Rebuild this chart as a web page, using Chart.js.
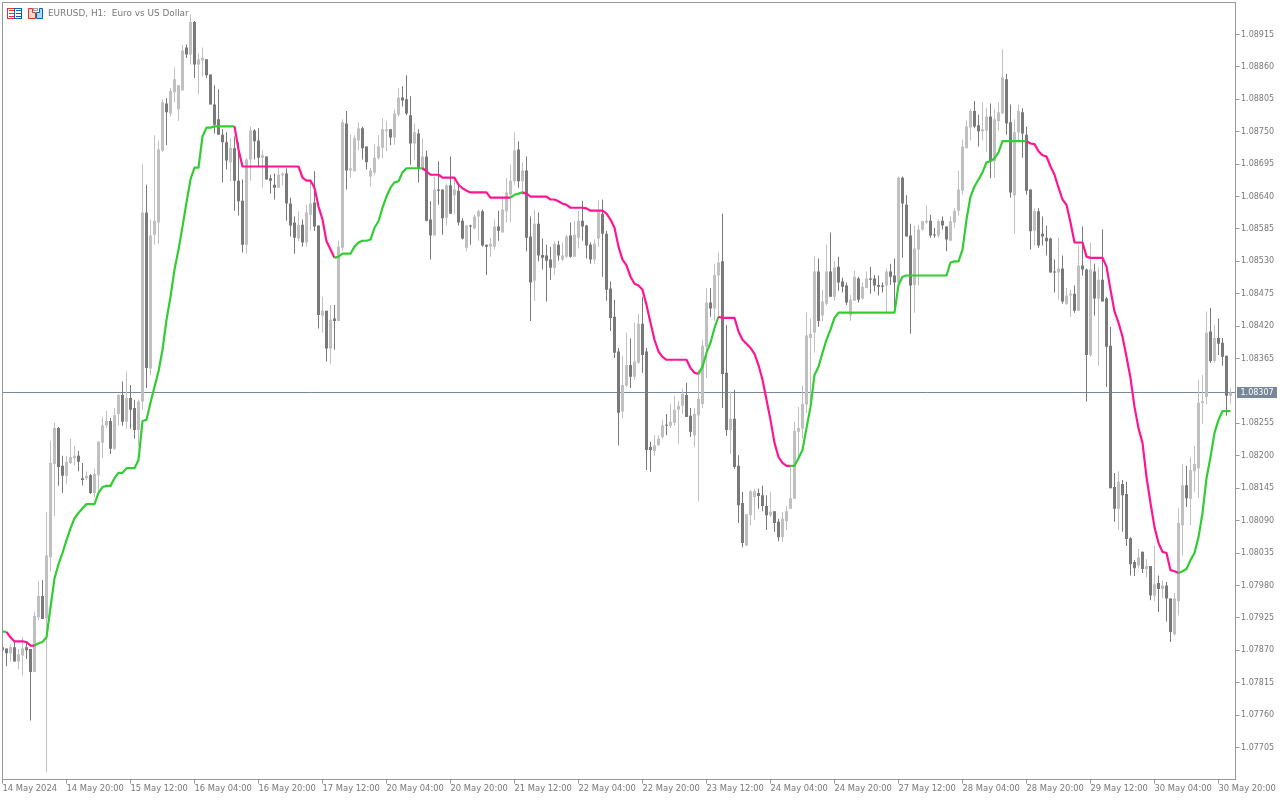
<!DOCTYPE html>
<html>
<head>
<meta charset="utf-8">
<style>html,body{margin:0;padding:0;background:#fff}canvas{display:block}</style>
<script src="https://cdn.jsdelivr.net/npm/chart.js@4"></script>
</head>
<body>
<canvas id="c" width="1280" height="800"></canvas>
<script>
// prices in points (1 point = 0.00001)
const highs=[107877,107873,107880,107884,107872,107892,107884,107872,107935,107987,
107989,108105,108225,108256,108249,108200,108200,108229,108217,108208,
108188,108174,108169,108178,108225,108266,108276,108264,108281,108305,
108326,108343,108320,108295,108295,108695,108660,108601,108744,108735,
108805,108807,108824,108859,108829,108897,108898,108949,108938,108883,
108893,108873,108847,108829,108822,108754,108749,108739,108742,108732,
108669,108705,108759,108754,108756,108718,108708,108677,108679,108689,
108681,108688,108638,108606,108615,108601,108626,108669,108683,108591,
108470,108446,108456,108456,108565,108771,108785,108745,108744,108766,
108759,108725,108689,108728,108744,108773,108768,108754,108788,108824,
108827,108846,108810,108764,108754,108739,108718,108632,108674,108700,
108652,108662,108708,108669,108660,108603,108592,108592,108609,108618,
108618,108558,108570,108601,108616,108638,108671,108694,108749,108734,
108698,108708,108606,108618,108613,108569,108558,108555,108564,108565,
108562,108575,108596,108598,108616,108633,108592,108562,108567,108633,
108635,108582,108496,108465,108383,108370,108409,108399,108426,108441,
108470,108383,108224,108235,108235,108261,108271,108288,108302,108293,
108314,108324,108281,108281,108346,108397,108484,108485,108526,108545,
108611,108422,108309,108312,108201,108139,108101,108142,108144,108144,
108149,108133,108139,108106,108093,108105,108115,108183,108258,108283,
108319,108443,108433,108538,108535,108482,108558,108579,108530,108538,
108502,108494,108473,108514,108504,108494,108513,108521,108507,108506,
108494,108518,108526,108535,108674,108674,108642,108594,108591,108592,
108599,108625,108609,108587,108601,108606,108589,108606,108620,108684,
108737,108769,108788,108802,108779,108800,108790,108798,108788,108800,
108890,108848,108796,108771,108796,108790,108759,108652,108620,108620,
108606,108591,108570,108533,108570,108540,108485,108482,108489,108557,
108589,108518,108562,108526,108519,108584,108470,108419,108171,108174,
108159,108156,108062,108023,108042,108037,108025,108013,108047,107997,
107989,107986,107958,107967,108111,108186,108183,108198,108217,108329,
108337,108445,108451,108422,108433,108400,108370,108315];
const lows=[107867,107843,107851,107851,107838,107827,107855,107751,107833,107921,
107923,107663,108004,108098,108149,108137,108152,108186,108183,108174,
108150,108159,108135,108130,108135,108196,108247,108203,108210,108252,
108251,108246,108246,108229,108217,108278,108315,108337,108558,108560,
108715,108727,108776,108800,108768,108820,108875,108864,108841,108813,
108844,108841,108796,108747,108745,108664,108686,108666,108616,108608,
108545,108543,108667,108703,108691,108655,108669,108645,108635,108655,
108659,108599,108572,108543,108564,108555,108555,108582,108582,108416,
108409,108360,108356,108380,108429,108548,108652,108672,108683,108718,
108703,108686,108657,108676,108703,108705,108717,108727,108728,108776,
108793,108778,108694,108703,108664,108684,108598,108533,108574,108626,
108575,108591,108611,108611,108591,108567,108547,108558,108584,108565,
108555,108507,108538,108550,108565,108579,108596,108596,108660,108655,
108643,108547,108429,108463,108530,108516,108462,108499,108507,108531,
108530,108536,108536,108538,108552,108565,108535,108526,108526,108555,
108504,108463,108412,108366,108218,108264,108317,108315,108329,108356,
108341,108176,108173,108200,108217,108229,108235,108247,108251,108220,
108271,108266,108232,108215,108123,108281,108332,108436,108429,108436,
108281,108234,108203,108178,108086,108045,108047,108082,108091,108110,
108106,108074,108096,108071,108055,108054,108074,108110,108127,108198,
108229,108273,108278,108375,108419,108429,108455,108470,108463,108480,
108477,108456,108429,108463,108460,108465,108485,108475,108479,108472,
108477,108443,108490,108443,108490,108536,108572,108407,108443,108489,
108582,108594,108570,108570,108570,108584,108547,108565,108587,108608,
108643,108722,108735,108756,108725,108735,108715,108671,108672,108752,
108781,108745,108638,108577,108734,108706,108643,108550,108557,108553,
108557,108540,108511,108477,108465,108458,108456,108436,108443,108446,
108506,108292,108368,108438,108353,108462,108317,108145,108088,108074,
108071,108047,107997,107996,108009,108001,107994,107955,107953,107935,
107958,107919,107884,107895,107929,108031,108113,108082,108139,108128,
108254,108287,108358,108358,108371,108353,108268,108288];
const opens=[107875,107873,107865,107875,107851,107861,107875,107872,107833,107926,
107962,107924,108028,108186,108247,108183,108166,108188,108196,108200,
108162,108162,108167,108137,108167,108222,108252,108259,108212,108271,
108303,108258,108298,108281,108244,108292,108613,108348,108575,108596,
108718,108798,108781,108817,108788,108820,108893,108881,108936,108864,
108871,108873,108847,108796,108771,108745,108732,108698,108722,108667,
108633,108558,108703,108752,108735,108706,108708,108671,108660,108655,
108676,108679,108628,108596,108569,108592,108562,108609,108630,108591,
108438,108446,108382,108433,108429,108553,108764,108684,108683,108735,
108756,108725,108674,108681,108705,108723,108751,108754,108740,108779,
108808,108805,108778,108730,108747,108688,108708,108601,108574,108652,
108652,108604,108659,108642,108650,108599,108553,108591,108586,108606,
108615,108558,108555,108555,108589,108579,108615,108643,108666,108720,
108666,108684,108572,108497,108594,108541,108540,108533,108519,108558,
108533,108538,108574,108538,108570,108599,108591,108558,108533,108569,
108611,108577,108484,108436,108377,108275,108319,108354,108334,108358,
108424,108377,108215,108208,108218,108232,108252,108251,108256,108278,
108285,108303,108268,108235,108269,108288,108385,108460,108450,108506,
108530,108341,108244,108263,108183,108120,108048,108099,108130,108137,
108133,108115,108099,108106,108088,108062,108089,108110,108127,108241,
108246,108287,108400,108409,108513,108438,108458,108513,108470,108521,
108496,108489,108438,108463,108501,108467,108485,108501,108501,108490,
108489,108489,108513,108506,108494,108672,108626,108574,108490,108550,
108584,108596,108599,108575,108574,108599,108589,108565,108596,108616,
108650,108722,108757,108785,108761,108751,108752,108776,108700,108768,
108781,108839,108766,108642,108749,108783,108745,108652,108582,108615,
108577,108570,108569,108513,108511,108518,108458,108472,108475,108446,
108523,108516,108371,108513,108467,108499,108467,108387,108147,108110,
108152,108135,108060,108020,108014,108037,108008,108013,107963,107984,
107974,107980,107958,107897,107953,108082,108150,108127,108174,108179,
108290,108300,108411,108361,108400,108392,108370,108302];
const closes=[107870,107865,107875,107851,107863,107873,107870,107833,107928,107962,
107923,108031,108188,108247,108181,108166,108190,108198,108200,108190,
108159,108166,108137,108169,108224,108252,108259,108212,108269,108303,
108258,108298,108278,108244,108292,108613,108349,108574,108599,108720,
108800,108783,108819,108839,108829,108888,108881,108936,108864,108873,
108875,108846,108796,108762,108745,108732,108701,108723,108667,108632,
108558,108703,108752,108734,108706,108710,108669,108667,108655,108677,
108679,108628,108591,108570,108592,108562,108613,108628,108589,108439,
108446,108382,108431,108429,108555,108766,108684,108688,108739,108756,
108722,108698,108684,108706,108725,108754,108754,108740,108781,108808,
108803,108781,108730,108749,108688,108708,108599,108574,108652,108650,
108603,108659,108611,108652,108596,108569,108591,108589,108606,108615,
108557,108555,108560,108589,108582,108618,108647,108667,108718,108666,
108684,108570,108494,108594,108540,108536,108531,108519,108560,108540,
108540,108572,108538,108575,108599,108589,108557,108533,108560,108616,
108577,108482,108434,108375,108273,108320,108354,108334,108360,108424,
108371,108210,108210,108218,108229,108252,108251,108258,108278,108285,
108305,108266,108241,108271,108297,108387,108460,108450,108507,108528,
108339,108244,108263,108181,108116,108052,108101,108140,108140,108132,
108115,108099,108105,108086,108062,108093,108106,108128,108242,108247,
108288,108404,108407,108513,108429,108462,108513,108470,108519,108494,
108487,108460,108465,108504,108465,108487,108501,108499,108489,108487,
108487,108513,108504,108494,108672,108628,108572,108489,108552,108584,
108598,108599,108574,108574,108598,108591,108567,108598,108616,108652,
108725,108759,108785,108759,108751,108754,108776,108700,108771,108783,
108842,108764,108647,108749,108785,108747,108650,108581,108615,108557,
108572,108564,108511,108511,108518,108462,108472,108475,108446,108523,
108516,108371,108516,108467,108499,108462,108385,108145,108110,108156,
108133,108059,108016,108009,108028,108008,108013,107963,107982,107974,
107980,107958,107901,107958,108086,108150,108128,108176,108186,108290,
108293,108409,108361,108400,108390,108368,108302,108307];
const trendLine=[107902,107901,107892,107885,107885,107885,107884,107878,107878,107882,
107884,107892,107943,107992,108016,108035,108057,108077,108094,108103,
108111,108118,108118,108118,108137,108147,108149,108149,108162,108171,
108171,108179,108179,108179,108193,108259,108261,108290,108317,108343,
108380,108431,108470,108516,108550,108589,108630,108669,108689,108689,
108742,108757,108757,108759,108759,108759,108759,108759,108759,108720,
108691,108691,108691,108691,108691,108691,108691,108691,108691,108691,
108691,108691,108691,108691,108691,108672,108667,108667,108655,108623,
108601,108564,108550,108536,108538,108543,108543,108543,108555,108562,
108565,108565,108567,108587,108598,108621,108640,108655,108664,108666,
108681,108688,108688,108688,108688,108688,108683,108677,108677,108677,
108672,108672,108672,108672,108660,108654,108650,108647,108647,108647,
108647,108647,108638,108638,108638,108638,108638,108638,108643,108645,
108647,108645,108640,108640,108640,108640,108640,108635,108635,108632,
108628,108626,108621,108621,108621,108621,108620,108616,108616,108616,
108616,108611,108601,108587,108555,108533,108523,108504,108492,108489,
108482,108456,108426,108397,108377,108368,108363,108363,108363,108363,
108363,108363,108349,108341,108339,108351,108375,108392,108417,108436,
108434,108434,108434,108434,108411,108397,108390,108383,108373,108354,
108329,108295,108261,108222,108198,108188,108183,108183,108183,108196,
108210,108247,108283,108337,108351,108375,108397,108414,108434,108443,
108443,108443,108443,108443,108443,108443,108443,108443,108443,108443,
108443,108443,108443,108443,108490,108504,108506,108506,108506,108506,
108506,108506,108506,108506,108506,108506,108506,108528,108530,108530,
108550,108601,108640,108657,108669,108681,108698,108700,108705,108715,
108734,108734,108734,108734,108734,108734,108734,108730,108729,108717,
108710,108708,108691,108677,108655,108635,108626,108596,108562,108562,
108562,108538,108536,108536,108536,108536,108521,108482,108445,108426,
108402,108368,108332,108283,108247,108222,108164,108120,108079,108052,
108037,108035,108006,108004,108001,108004,108008,108023,108035,108062,
108103,108162,108198,108239,108261,108276,108276,108276];
// bar index where the trend line changes colour; starts green
const trendSwitches=[1,8,58,83,105,127,130,174,179,197,256,294];
const yTickValues=[108915,108860,108805,108750,108695,108640,108585,108530,108475,108420,108365,108255,108200,108145,108090,108035,107980,107925,107870,107815,107760,107705];
const xTickLabels=['14 May 2024','14 May 20:00','15 May 12:00','16 May 04:00','16 May 20:00','17 May 12:00','20 May 04:00','20 May 20:00','21 May 12:00','22 May 04:00','22 May 20:00','23 May 12:00','24 May 04:00','24 May 20:00','27 May 12:00','28 May 04:00','28 May 20:00','29 May 12:00','30 May 04:00','30 May 20:00'];
const barsPerLabel=16;
const currentPrice=1.08307;
const yMin=1.076507, yMax=1.089693;
const chartTitle='EURUSD, H1:  Euro vs US Dollar';

const UP='#c0c0c0', DOWN='#797979', GREEN='#32cd32', PINK='#ff1493', FRAME='#98989c', TEXT='#787878', PRICE='#778899';
const px=v=>v/1e5;
const categories=Array.from({length:closes.length+1},(_,i)=>i%barsPerLabel===0?(xTickLabels[i/barsPerLabel]||''):'');
const candleColors=closes.map((c,i)=>c>=opens[i]?UP:DOWN);
const isPink=i=>{let n=0;for(const s of trendSwitches){if(i>=s)n++;}return n%2===1;};
const noPad=ax=>{ax.paddingTop=0;ax.paddingBottom=0;ax.paddingLeft=0;ax.paddingRight=0;};

const furniture={
  id:'furniture',
  beforeDatasetsDraw(chart){
    const {ctx,chartArea:a,scales:{y}}=chart;
    const py=Math.floor(y.getPixelForValue(currentPrice))+0.5;
    ctx.save();ctx.strokeStyle=PRICE;ctx.lineWidth=1;
    ctx.beginPath();ctx.moveTo(a.left,py);ctx.lineTo(a.right+1,py);ctx.stroke();ctx.restore();
  },
  afterDraw(chart){
    const {ctx,chartArea:a,scales:{y}}=chart;
    ctx.save();
    ctx.strokeStyle=FRAME;ctx.lineWidth=1;
    ctx.strokeRect(a.left,a.top,a.right+1-a.left,a.bottom-a.top);
    const py=Math.floor(y.getPixelForValue(currentPrice));
    ctx.fillStyle=PRICE;ctx.fillRect(1237,py-5,40,11);
    ctx.fillStyle='#fff';ctx.font='8px "DejaVu Sans"';ctx.textBaseline='middle';ctx.textAlign='left';
    ctx.fillText(currentPrice.toFixed(5),1240.5,py+0.5);
    // header
    ctx.fillStyle=TEXT;ctx.font='8.9px "DejaVu Sans"';ctx.fillText(chartTitle,48,14);
    // icon 1
    const R='#e5322d',B='#0b63b0';
    ctx.lineWidth=1;
    ctx.strokeStyle=R;ctx.strokeRect(7.5,8.5,7,10);
    ctx.strokeStyle=B;ctx.strokeRect(14.5,8.5,7,10);
    ctx.strokeStyle=R;[10.5,13.5,16.5].forEach(v=>{ctx.beginPath();ctx.moveTo(9,v);ctx.lineTo(14,v);ctx.stroke();});
    ctx.strokeStyle=B;[10.5,13.5,16.5].forEach(v=>{ctx.beginPath();ctx.moveTo(16,v);ctx.lineTo(21,v);ctx.stroke();});
    // icon 2
    ctx.fillStyle='#ffd9d0';ctx.fillRect(28,12,7,7);ctx.fillRect(28,9,4,3);
    ctx.fillStyle='#a9d8f5';ctx.fillRect(36,13,7,6);ctx.fillRect(39,9,4,4);
    ctx.strokeStyle=R;ctx.beginPath();ctx.moveTo(32.5,8.5);ctx.lineTo(28.5,8.5);ctx.lineTo(28.5,18.5);ctx.lineTo(35.5,18.5);ctx.lineTo(35.5,12.5);ctx.lineTo(32.5,12.5);ctx.closePath();ctx.stroke();
    ctx.strokeStyle=B;ctx.beginPath();ctx.moveTo(39.5,12.5);ctx.lineTo(36.5,12.5);ctx.lineTo(36.5,18.5);ctx.lineTo(42.5,18.5);ctx.lineTo(42.5,8.5);ctx.lineTo(39.5,8.5);ctx.closePath();ctx.stroke();
    ctx.strokeStyle='#a0a0a0';ctx.strokeRect(33.5,8.5,4,2);
    ctx.restore();
  }
};

new Chart(document.getElementById('c'),{
  type:'bar',
  data:{
    labels:categories,
    datasets:[
      {type:'line',label:'Trend',data:trendLine.map(px),order:0,borderWidth:2.2,pointRadius:0,tension:0,borderColor:GREEN,
       segment:{borderColor:c=>isPink(c.p0DataIndex)?PINK:GREEN},borderJoinStyle:'round'},
      {label:'Body',data:closes.map((c,i)=>[px(opens[i]),px(c)]),order:1,backgroundColor:candleColors,grouped:false,
       categoryPercentage:1,barPercentage:1,maxBarThickness:3,borderWidth:0,inflateAmount:0,minBarLength:1},
      {label:'Wick',data:highs.map((h,i)=>[px(lows[i]),px(h)]),order:2,backgroundColor:candleColors,grouped:false,
       categoryPercentage:1,barPercentage:1,maxBarThickness:1,borderWidth:0,inflateAmount:0}
    ]
  },
  options:{
    responsive:false,animation:false,devicePixelRatio:1,
    layout:{padding:{left:2.5,top:2.5,right:0,bottom:0}},
    plugins:{legend:{display:false},tooltip:{enabled:false},title:{display:false}},
    events:[],
    scales:{
      x:{type:'category',offset:false,
        afterBuildTicks:ax=>{ax.ticks=ax.ticks.filter(t=>t.value%barsPerLabel===0&&t.value<closes.length);},
        afterFit:ax=>{ax.height=20.5;noPad(ax);},
        border:{display:false},
        grid:{drawOnChartArea:false,drawTicks:true,tickLength:4,tickColor:FRAME,offset:false},
        ticks:{autoSkip:false,maxRotation:0,minRotation:0,align:'start',padding:0,labelOffset:0,color:TEXT,font:{family:'"DejaVu Sans"',size:8.4}}
      },
      y:{type:'linear',position:'right',min:yMin,max:yMax,
        afterBuildTicks:ax=>{ax.ticks=yTickValues.map(v=>({value:px(v)}));},
        afterFit:ax=>{ax.width=45.5;noPad(ax);},
        border:{display:false},
        grid:{drawOnChartArea:false,drawTicks:true,tickLength:5,tickColor:FRAME},
        ticks:{autoSkip:false,padding:1.5,color:TEXT,font:{family:'"DejaVu Sans"',size:8},callback:v=>Number(v).toFixed(5)}
      }
    }
  },
  plugins:[furniture]
});
</script>
</body>
</html>
